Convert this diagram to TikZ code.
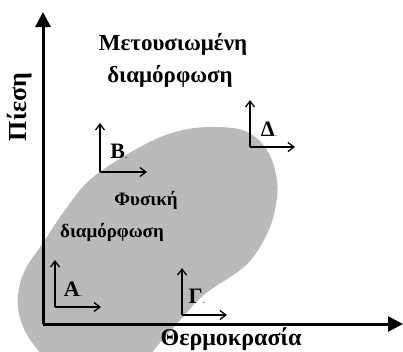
\documentclass[tikz,border=0pt]{standalone}
\usepackage{fontspec}
\setmainfont{Liberation Serif}
\usetikzlibrary{arrows.meta}
\tikzset{
  axis/.style={line width=3pt,-{Triangle[length=15pt,width=15pt]}},
  frame/.style={line width=1.8pt,-{Straight Barb[length=6pt,width=9pt,line width=1.3pt]}},
  lbl/.style={font=\bfseries\fontsize{22}{22}\selectfont,inner sep=0pt},
  region/.style={fill=black!27,draw=none},
  big/.style={font=\bfseries\fontsize{23}{24}\selectfont,inner sep=0pt},
  small/.style={font=\bfseries\fontsize{19}{20}\selectfont,inner sep=0pt}
}
\newcommand{\mk}{\raisebox{-1pt}{\fontsize{5}{5}\selectfont\textbf{--}}}
\begin{document}
\begin{tikzpicture}[x=1pt,y=1pt]
\useasboundingbox (0,0) rectangle (403,-351);
\clip (0,0) rectangle (403,-351);
% region
\fill[region] plot[smooth cycle,tension=0.6] coordinates {
 (210,-127) (245,-131) (267,-150) (277,-180) (275,-210) (265,-238)
 (245,-266) (205,-294) (182,-318) (158,-345) (138,-366) (90,-374)
 (50,-360) (31,-341) (20,-318) (18,-295) (25,-270) (43,-243)
 (65,-210) (92,-178) (140,-147) (175,-132)};
% axes
\coordinate (O) at (43,-324);
\coordinate (ytip) at (43,-12);
\coordinate (xtip) at (403,-324);
\draw[axis] (O) -- (ytip);
\draw[axis] (O) -- (xtip);
% frames
\coordinate (oA) at (55,-307); \coordinate (uA) at (55,-260); \coordinate (rA) at (101,-307);
\coordinate (oB) at (100,-172); \coordinate (uB) at (100,-123); \coordinate (rB) at (147,-172);
\coordinate (oG) at (182,-315); \coordinate (uG) at (182,-268); \coordinate (rG) at (227,-315);
\coordinate (oD) at (250,-147); \coordinate (uD) at (250,-100); \coordinate (rD) at (295,-147);
\draw[frame] (oA) -- (uA); \draw[frame] (oA) -- (rA);
\draw[frame] (oB) -- (uB); \draw[frame] (oB) -- (rB);
\draw[frame] (oG) -- (uG); \draw[frame] (oG) -- (rG);
\draw[frame] (oD) -- (uD); \draw[frame] (oD) -- (rD);
\node[lbl] (A) at (73,-290) {A\mk};
\node[lbl] (B) at (119,-152) {B\mk};
\node[lbl] (G) at (197,-297) {Γ\mk};
\node[lbl] (D) at (269,-130) {Δ\mk};
% texts
\node[big] (meta1) at (173,-44) {Μετουσιωμένη};
\node[big] (meta2) at (170,-76) {διαμόρφωση};
\node[small] (fys1) at (146,-200) {Φυσική};
\node[small] (fys2) at (112,-232) {διαμόρφωση};
\node[rotate=90,font=\bfseries\fontsize{26}{26}\selectfont,inner sep=0pt] (P) at (20,-107) {Πίεση};
\node[font=\bfseries\fontsize{24}{24}\selectfont,inner sep=0pt] (T) at (231,-339) {Θερμοκρασία};
\end{tikzpicture}
\end{document}
